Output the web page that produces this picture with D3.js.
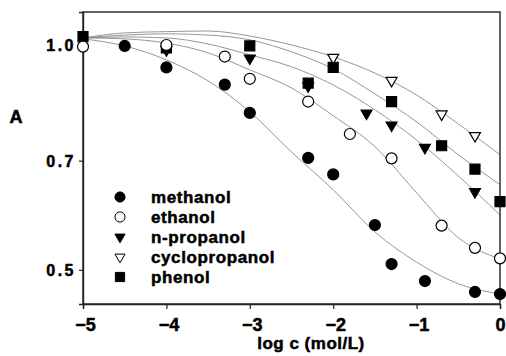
<!DOCTYPE html>
<html>
<head>
<meta charset="utf-8">
<script src="https://cdn.jsdelivr.net/npm/d3@7"></script>
<style>
  body { margin: 0; background: #fff; }
  text { font-family: "Liberation Sans", Arial, sans-serif; font-weight: bold; fill: #000; stroke: #000; stroke-width: 0.5px; }
</style>
</head>
<body>
<svg id="chart" width="506" height="356"></svg>
<script>
// measured points, [log c, A]
const methanolPts = [[-4.5, 0.997], [-4, 0.933], [-3.3, 0.885], [-3, 0.811], [-2.3, 0.706], [-2, 0.671],
    [-1.5, 0.574], [-1.3, 0.509], [-0.9, 0.483], [-0.3, 0.467], [0, 0.464]];
const ethanolPts = [[-5, 0.995], [-4, 1.0], [-3.3, 0.965], [-3, 0.901], [-2.3, 0.840], [-1.8, 0.760],
    [-1.3, 0.705], [-0.7, 0.573], [-0.3, 0.535], [0, 0.518]];
const propanolPts = [[-4, 0.985], [-3, 0.960], [-2.3, 0.881], [-1.6, 0.810], [-1.3, 0.781], [-0.9, 0.729], [-0.3, 0.636]];
const cycloPts = [[-2, 0.962], [-1.3, 0.896], [-0.7, 0.808], [-0.3, 0.756]];
const phenolPts = [[-5, 1.026], [-4, 0.991], [-3, 0.997], [-2.3, 0.889], [-2, 0.933], [-1.3, 0.840],
    [-0.7, 0.733], [-0.3, 0.682], [0, 0.617]];

// fitted curves at these log c values
const curveX = [-5, -4.5, -4, -3.5, -3, -2.5, -2, -1.5, -1, -0.5, 0];
const methanolFit = [1.019, 0.997, 0.955, 0.895, 0.814, 0.719, 0.640, 0.562, 0.512, 0.479, 0.464];
const ethanolFit = [1.022, 1.019, 1.006, 0.976, 0.926, 0.876, 0.804, 0.731, 0.634, 0.552, 0.517];
const propanolFit = [1.022, 1.025, 1.022, 1.003, 0.970, 0.935, 0.884, 0.819, 0.746, 0.668, 0.592];
const cycloFit = [1.022, 1.038, 1.042, 1.044, 1.028, 1.000, 0.964, 0.917, 0.857, 0.784, 0.713];
const phenolFit = [1.022, 1.031, 1.035, 1.031, 1.016, 0.979, 0.929, 0.860, 0.789, 0.713, 0.650];

const legendNames = ["methanol", "ethanol", "n-propanol", "cyclopropanol", "phenol"];
const xTicks = [-5, -4, -3, -2, -1, 0];
const yTicks = [0.5, 0.7, 1.0];

const svg = d3.select("#chart");
const plotLeft = 83, plotRight = 500, plotTop = 12, plotBottom = 304;

const x = d3.scaleLinear().domain([-5, 0]).range([plotLeft, plotRight]);
const y = d3.scaleLog().domain([0.45, 1.107]).range([plotBottom, plotTop]);

// marker styles
const markers = {
    "methanol": {type: d3.symbolCircle, size: 95, fill: "#000", rot: 0},
    "ethanol": {type: d3.symbolCircle, size: 95, fill: "#fff", rot: 0},
    "n-propanol": {type: d3.symbolTriangle, size: 52, fill: "#000", rot: 180},
    "cyclopropanol": {type: d3.symbolTriangle, size: 52, fill: "#fff", rot: 180},
    "phenol": {type: d3.symbolSquare, size: 100, fill: "#000", rot: 0}
};

// curves
const line = d3.line()
    .x(d => x(d[0]))
    .y(d => y(d[1]))
    .curve(d3.curveMonotoneX);

[methanolFit, ethanolFit, propanolFit, cycloFit, phenolFit].forEach(fit => {
    svg.append("path")
        .datum(curveX.map((v, i) => [v, fit[i]]))
        .attr("d", line)
        .attr("fill", "none")
        .attr("stroke", "#8a8a8a")
        .attr("stroke-width", 0.9);
});

// frame
svg.append("rect")
    .attr("x", plotLeft).attr("y", plotTop)
    .attr("width", plotRight - plotLeft).attr("height", plotBottom - plotTop)
    .attr("fill", "none")
    .attr("stroke", "#222")
    .attr("stroke-width", 1.4);

// axes
const xAxis = svg.append("g")
    .attr("transform", `translate(0,${plotBottom})`)
    .call(d3.axisBottom(x).tickValues(xTicks).tickSize(5).tickFormat(d3.format("d")));
xAxis.select(".domain").attr("stroke", "#222").attr("stroke-width", 1.4);
xAxis.selectAll(".tick line").attr("stroke", "#222").attr("stroke-width", 1.2);
xAxis.selectAll(".tick text")
    .attr("y", 27)
    .attr("dy", 0)
    .attr("dx", d => d === 0 ? 0 : 2)
    .style("font-size", "18px")
    .style("font-family", "Liberation Sans, Arial, sans-serif")
    .style("font-weight", "bold");

const yAxis = svg.append("g")
    .attr("transform", `translate(${plotLeft},0)`)
    .call(d3.axisLeft(y).tickValues(yTicks).tickSize(4).tickFormat(d3.format(".1f")));
yAxis.select(".domain").attr("stroke", "#222").attr("stroke-width", 1.4);
yAxis.selectAll(".tick line").attr("stroke", "#222").attr("stroke-width", 1.2);
yAxis.selectAll(".tick text")
    .attr("x", -7)
    .attr("dy", "0.36em")
    .style("font-size", "16px")
    .style("letter-spacing", "2.5px")
    .style("font-family", "Liberation Sans, Arial, sans-serif")
    .style("font-weight", "bold");

// points
function drawPoints(pts, name) {
    const m = markers[name];
    svg.append("g").selectAll("path")
        .data(pts)
        .join("path")
        .attr("d", d3.symbol().type(m.type).size(m.size))
        .attr("transform", d => `translate(${x(d[0])},${y(d[1])}) rotate(${m.rot})`)
        .attr("fill", m.fill)
        .attr("stroke", "#000")
        .attr("stroke-width", 1.2);
}
drawPoints(phenolPts, "phenol");
drawPoints(propanolPts, "n-propanol");
drawPoints(methanolPts, "methanol");
drawPoints(cycloPts, "cyclopropanol");
drawPoints(ethanolPts, "ethanol");

// legend
const legend = svg.append("g").attr("transform", "translate(120,197)");
legendNames.forEach((name, i) => {
    const m = markers[name];
    const row = legend.append("g").attr("transform", `translate(0,${i * 20})`);
    row.append("path")
        .attr("d", d3.symbol().type(m.type).size(m.size * 0.85))
        .attr("transform", `rotate(${m.rot})`)
        .attr("fill", m.fill)
        .attr("stroke", "#000")
        .attr("stroke-width", 1);
    row.append("text")
        .attr("x", 31)
        .attr("y", 6)
        .style("font-size", "17px")
        .style("letter-spacing", "0.6px")
        .text(name);
});

// axis titles
svg.append("text")
    .attr("x", 16)
    .attr("y", 123)
    .attr("text-anchor", "middle")
    .style("font-size", "18px")
    .text("A");

svg.append("text")
    .attr("x", 311)
    .attr("y", 349)
    .attr("text-anchor", "middle")
    .style("font-size", "17px")
    .style("letter-spacing", "0.5px")
    .text("log c (mol/L)");
</script>
</body>
</html>
